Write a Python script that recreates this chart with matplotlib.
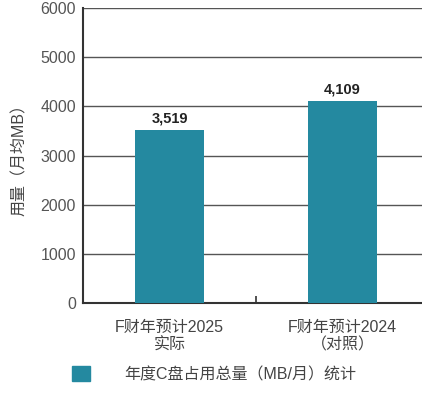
import matplotlib
matplotlib.use("Agg")
import matplotlib.pyplot as plt
from matplotlib.patches import Patch

# Latin glyphs from Liberation Sans, CJK glyphs fall back to Noto
plt.rcParams['font.family'] = ['Liberation Sans', 'Noto Sans CJK SC']

categories = ["F财年预计2025\n实际", "F财年预计2024\n（对照）"]
values = [3519, 4109]
value_labels = ["3,519", "4,109"]
yticks = [0, 1000, 2000, 3000, 4000, 5000, 6000]
ylabel = "用量（月均MB）"
legend_label = "年度C盘占用总量（MB/月）统计"
bar_color = "#2489a0"

fig = plt.figure(figsize=(4.22, 4.0), dpi=100)
ax = fig.add_axes([83/422, 97/400, 346/422, 295/400])

x = list(range(len(values)))
ax.bar(x, values, width=0.4, color=bar_color, zorder=3)
for xi, v, lab in zip(x, values, value_labels):
    ax.annotate(lab, (xi, v), xytext=(0, 3), textcoords='offset points',
                ha='center', va='bottom', fontsize=10.5, fontweight='bold', color='#222222')

ax.set_xlim(-0.5, 1.5)
ax.set_ylim(0, 6000)
ax.set_yticks(yticks)
ax.yaxis.grid(True, color='#555555', linewidth=1)
ax.set_axisbelow(True)

ax.set_xticks(x, categories)
ax.set_xticks([0.5], minor=True)
ax.tick_params(axis='x', which='major', length=0, pad=12, labelsize=11.5, labelcolor='#444444')
ax.tick_params(axis='x', which='minor', direction='in', length=5, width=1.2, color='#333333')
ax.tick_params(axis='y', length=0, pad=5, labelsize=11.5, labelcolor='#555555')

for side in ['top', 'right']:
    ax.spines[side].set_visible(False)
for side in ['left', 'bottom']:
    ax.spines[side].set_color('#333333')
    ax.spines[side].set_linewidth(1.5)

ax.set_ylabel(ylabel, fontsize=11.5, color='#444444', labelpad=10)

fig.legend(handles=[Patch(color=bar_color)], labels=[legend_label],
           loc='center left', bbox_to_anchor=(72/422, 1 - 374/400),
           frameon=False, borderpad=0, borderaxespad=0,
           handlelength=1.1, handleheight=1.1, handletextpad=2.2,
           fontsize=11.5, labelcolor='#444444')

fig.savefig("out.png", dpi=100)
